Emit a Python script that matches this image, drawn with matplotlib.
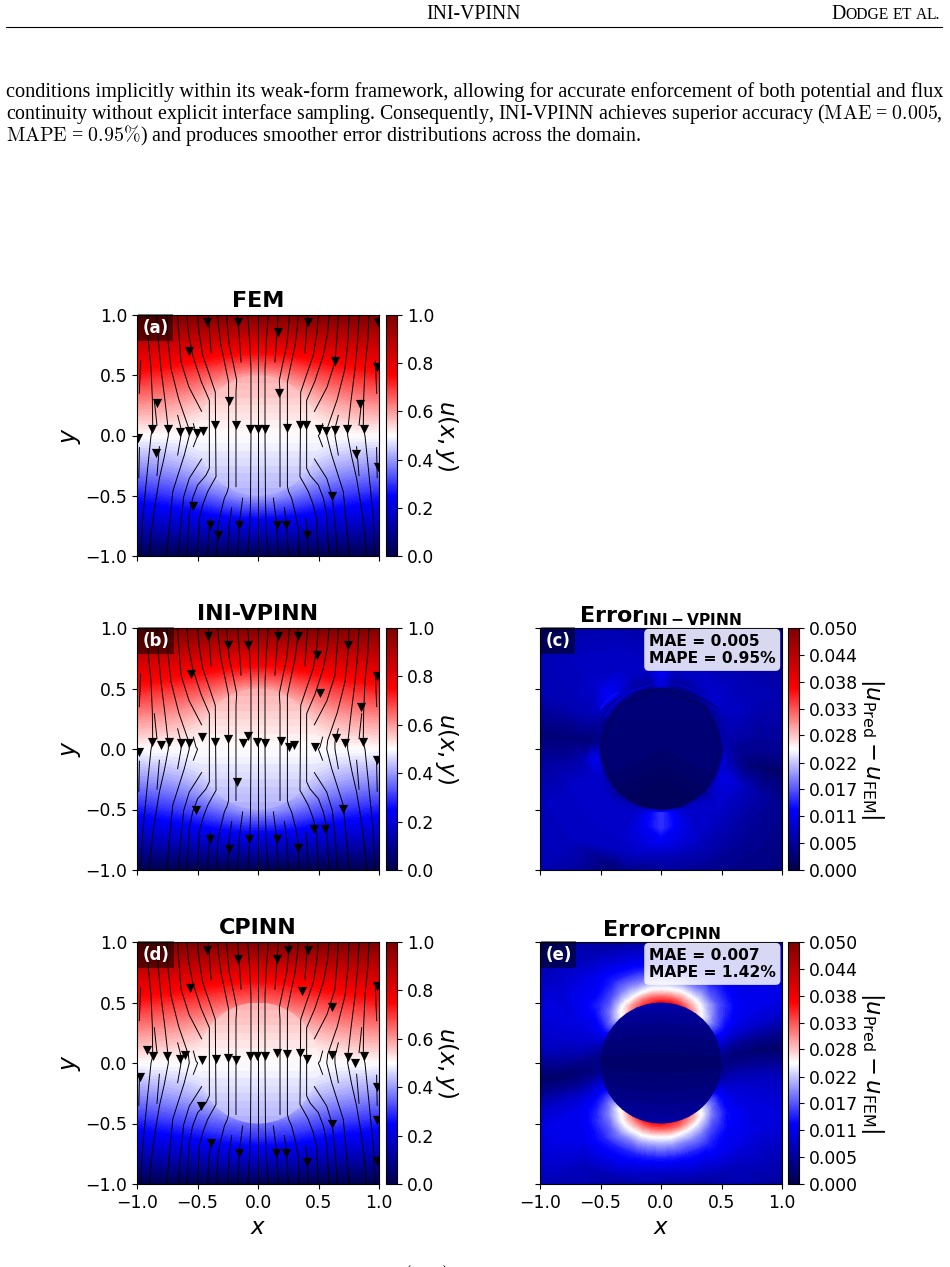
"""Potential fields and error maps for the circular inclusion test case, laid out on a journal page."""
import matplotlib

matplotlib.use("Agg")
import matplotlib.pyplot as plt
import numpy as np
from matplotlib.cm import ScalarMappable
from matplotlib.colors import Normalize
from matplotlib.patches import Circle

W, H = 950, 1267
RADIUS = 0.5

# upper right quadrant of u, rows y = 0..1, columns x = 0..1, the rest follows by symmetry
quad_nodes = [0.0, 0.125, 0.25, 0.375, 0.5, 0.625, 0.75, 0.875, 1.0]
u_quad_fem = [
    [0.500, 0.500, 0.500, 0.500, 0.500, 0.500, 0.500, 0.500, 0.500],
    [0.520, 0.520, 0.520, 0.520, 0.522, 0.536, 0.544, 0.549, 0.552],
    [0.540, 0.540, 0.540, 0.540, 0.557, 0.578, 0.591, 0.599, 0.605],
    [0.560, 0.562, 0.564, 0.577, 0.610, 0.631, 0.645, 0.655, 0.662],
    [0.590, 0.600, 0.624, 0.650, 0.673, 0.691, 0.705, 0.716, 0.728],
    [0.698, 0.702, 0.714, 0.730, 0.746, 0.759, 0.770, 0.778, 0.785],
    [0.798, 0.800, 0.807, 0.815, 0.826, 0.834, 0.841, 0.847, 0.852],
    [0.897, 0.898, 0.901, 0.905, 0.910, 0.914, 0.918, 0.921, 0.924],
    [1.000, 1.000, 1.000, 1.000, 1.000, 1.000, 1.000, 1.000, 1.000],
]
u_quad_cpinn = [
    [0.500, 0.500, 0.500, 0.500, 0.500, 0.500, 0.500, 0.500, 0.500],
    [0.520, 0.520, 0.520, 0.520, 0.525, 0.536, 0.544, 0.549, 0.552],
    [0.540, 0.540, 0.540, 0.540, 0.565, 0.580, 0.591, 0.599, 0.605],
    [0.560, 0.562, 0.564, 0.600, 0.620, 0.635, 0.645, 0.655, 0.662],
    [0.640, 0.645, 0.655, 0.665, 0.682, 0.695, 0.707, 0.716, 0.728],
    [0.710, 0.715, 0.722, 0.735, 0.748, 0.760, 0.770, 0.778, 0.785],
    [0.798, 0.800, 0.807, 0.815, 0.826, 0.834, 0.841, 0.847, 0.852],
    [0.897, 0.898, 0.901, 0.905, 0.910, 0.914, 0.918, 0.921, 0.924],
    [1.000, 1.000, 1.000, 1.000, 1.000, 1.000, 1.000, 1.000, 1.000],
]

# inside the inclusion
inner_x = [-0.5, 0.0, 0.5]
inner_y = [-0.5, -0.25, 0.0, 0.25, 0.5]
u_inner = [
    [0.42, 0.42, 0.42],
    [0.46, 0.46, 0.46],
    [0.50, 0.50, 0.50],
    [0.54, 0.54, 0.54],
    [0.58, 0.58, 0.58],
]
err_inner_vpinn = [
    [0.0015, 0.0010, 0.0015],
    [0.0025, 0.0015, 0.0025],
    [0.0030, 0.0025, 0.0030],
    [0.0030, 0.0030, 0.0030],
    [0.0035, 0.0035, 0.0035],
]
err_inner_cpinn = [
    [0.0060, 0.0060, 0.0060],
    [0.0040, 0.0035, 0.0040],
    [0.0020, 0.0020, 0.0020],
    [0.0040, 0.0035, 0.0040],
    [0.0065, 0.0065, 0.0065],
]

# absolute error outside the inclusion: rows by radius, columns by angle in degrees
err_radii_vpinn = [0.5, 0.53, 0.58, 0.65, 0.75, 0.9, 1.05, 1.45]
err_angles_vpinn = [0, 25, 45, 67.5, 80, 90, 100, 112.5, 135, 155, 173, 188, 205, 225, 247.5, 255, 270, 285, 292.5,
                    315, 335, 349]
err_outer_vpinn = [
    [.005, .004, .003, .003, .003, .003, .003, .003, .003, .003, .003, .003, .004, .004, .003, .003, .003, .003, .003, .003, .004, .004],
    [.007, .006, .005, .005, .005, .011, .005, .006, .006, .005, .004, .011, .008, .006, .008, .010, .015, .010, .008, .006, .010, .010],
    [.006, .007, .009, .006, .006, .011, .006, .006, .011, .006, .003, .011, .009, .008, .009, .011, .015, .011, .009, .008, .011, .007],
    [.005, .008, .009, .008, .008, .012, .008, .008, .012, .007, .003, .007, .009, .009, .009, .011, .015, .011, .009, .009, .010, .005],
    [.005, .008, .008, .008, .008, .009, .008, .008, .009, .007, .003, .006, .009, .009, .009, .010, .012, .010, .009, .008, .008, .003],
    [.005, .007, .007, .007, .007, .007, .007, .008, .008, .007, .003, .006, .008, .008, .008, .008, .007, .007, .007, .006, .006, .002],
    [.005, .007, .006, .006, .006, .006, .006, .007, .008, .007, .003, .006, .008, .008, .003, .004, .005, .005, .005, .005, .005, .002],
    [.004, .005, .005, .006, .006, .006, .006, .006, .006, .006, .003, .006, .007, .007, .002, .003, .004, .004, .004, .003, .004, .002],
]
# thin arcs hugging the inclusion in the INI-VPINN error
arc_angles = [
    [0, 45, 90, 135, 180, 225, 270, 315, 360],
    [35, 50, 70, 90, 110, 130, 145],
    [100, 115, 130, 150],
    [128, 134, 140, 146],
    [60, 75, 88],
]
arc_radii = [
    [0.5, 0.5, 0.5, 0.5, 0.5, 0.5, 0.5, 0.5, 0.5],
    [0.58, 0.54, 0.51, 0.5, 0.51, 0.55, 0.58],
    [0.535, 0.535, 0.54, 0.535],
    [0.59, 0.595, 0.6, 0.6],
    [0.56, 0.55, 0.545],
]
arc_values = [0.0008, 0.0012, 0.011, 0.013, 0.009]
arc_widths = [1.0, 0.8, 1.0, 1.8, 1.2]

# half turn of the CPINN error, the opposite half repeats it point for point
err_radii_cpinn = [0.5, 0.54, 0.6, 0.68, 0.78, 0.9, 1.05, 1.45]
err_angles_cpinn = [-90, -82.5, -75, -67.5, -60, -52.5, -45, -37.5, -30, -22.5, -15, -7.5,
                    0, 7.5, 15, 22.5, 30, 37.5, 45, 52.5, 60, 67.5, 75, 82.5]
err_half_cpinn = [
    [.037, .036, .035, .033, .030, .026, .022, .017, .013, .009, .006, .004, .004, .005, .008, .011, .014, .018, .023, .027, .031, .034, .036, .037],
    [.033, .033, .032, .030, .028, .025, .021, .017, .013, .010, .007, .005, .004, .004, .007, .011, .014, .018, .022, .025, .028, .030, .032, .033],
    [.026, .026, .025, .024, .023, .021, .018, .015, .012, .010, .008, .006, .004, .003, .006, .010, .013, .016, .019, .022, .024, .025, .026, .026],
    [.020, .020, .019, .019, .018, .016, .015, .013, .011, .010, .009, .007, .004, .003, .005, .009, .012, .014, .016, .017, .019, .019, .020, .020],
    [.014, .014, .014, .014, .014, .013, .012, .012, .011, .010, .009, .007, .005, .002, .005, .009, .011, .012, .013, .014, .014, .014, .014, .014],
    [.009, .009, .010, .010, .011, .011, .011, .011, .010, .010, .009, .008, .005, .002, .005, .009, .011, .011, .011, .011, .011, .011, .010, .009],
    [.004, .004, .005, .006, .007, .008, .009, .009, .010, .010, .009, .008, .005, .002, .005, .009, .011, .011, .010, .008, .007, .006, .005, .005],
    [.003, .003, .003, .004, .005, .005, .005, .006, .007, .008, .009, .008, .005, .003, .005, .008, .009, .008, .007, .006, .006, .006, .005, .005],
]

# streamline pieces on the right half, drawn mirrored on the left as well
stream_x = [
    [0.0, 0.0],
    [.085, .07, .058, .058, .062, .07, .085],
    [.168, .14],
    [.26, .252, .237, .205, .176, .182, .182],
    [.333, .325, .306, .275, .243, .243, .255, .278, .31, .333, .339],
    [.41, .388],
    [.499, .487, .457, .4, .353, .347, .38, .416, .455, .485, .499],
    [.587, .575, .54, .47, .402, .402, .402, .43, .499, .54, .568, .587],
    [.664, .655, .636, .57, .466],
    [.466, .568, .614, .636, .658],
    [.752, .745, .719, .655, .576, .568, .609, .705, .755],
    [.534, .512, .499, .534],
    [.664, .636, .636, .664],
    [.835, .825, .802, .77, .741, .741, .775, .815, .855, .884, .898],
    [.917, .908, .884, .873, .87, .884, .912, .953, .967],
    [.857, .835],
    [.815, .835],
    [.127, .154, .168],
    [.218, .237, .251],
    [.394, .408, .416],
    [.97, .981],
    [.98, .985],
]
stream_y = [
    [1.0, -1.0],
    [1.0, .8, .555, 0.0, -.55, -.8, -1.0],
    [1.0, .61],
    [1.0, .9, .748, .6, .458, .36, -.425],
    [1.0, .9, .748, .6, .444, -.425, -.47, -.52, -.65, -.77, -1.0],
    [1.0, .687],
    [1.0, .85, .666, .5, .36, -.342, -.4, -.466, -.57, -.687, -1.0],
    [1.0, .85, .666, .45, .292, 0.0, -.272, -.33, -.411, -.52, -.66, -1.0],
    [1.0, .85, .61, .4, .2],
    [-.195, -.356, -.508, -.715, -1.0],
    [1.0, .8, .555, .3, .071, 0.0, -.162, -.466, -1.0],
    [.098, .015, 0.0, -.093],
    [.167, .057, 0.0, -.162],
    [1.0, .8, .555, .3, .043, 0.0, -.18, -.356, -.6, -.826, -1.0],
    [1.0, .8, .555, .3, .057, 0.0, -.272, -.687, -1.0],
    [.292, .085],
    [-.093, -.333],
    [-.52, -.73, -1.0],
    [-.6, -.74, -1.0],
    [-.687, -.81, -1.0],
    [.62, .35],
    [-.1, -.35],
]

# arrow heads along the streamlines
arrows_fem_x = [-.419, -.166, .163, .414, .993, -.568, .637, .982, -.833, -.243, .177, .847, -.877, -.742, -.643,
                -.571, -.502, -.458, -.353, -.185, -.063, 0.0, .061, .24, .348, .4, .505, .566, .637, .739, .872,
                -.839, .808, .993, -.993, -.541, .61, -.4, -.157, .154, .234, -.328, .406]
arrows_fem_y = [.938, .938, .861, .938, .938, .698, .621, .566, .27, .29, .353, .262, .055, .05, .033,
                .041, .022, .036, .088, .083, .055, .055, .055, .066, .088, .091, .055, .041, .047, .05, .055,
                -.146, -.157, -.262, -.019, -.585, -.505, -.745, -.745, -.745, -.745, -.828, -.822]
arrows_vpinn_x = [-.416, -.245, -.08, .168, .333, .49, .747, .986, -.554, .512, .851, -.083, -.466, -.876, -.802,
                  -.736, -.639, -.567, -.353, -.248, -.127, -.008, .055, .19, .253, .295, .474, .645, .719, .871,
                  -.981, .986, -.171, -.515, .705, .466, .551, -.394, -.077, .154, -.24, .328]
arrows_vpinn_y = [.937, .86, .86, .937, .937, .777, .86, .606, .617, .466, .344, .107, .096, .055, .033,
                  .055, .05, .05, .058, .08, .05, .061, .05, .066, .017, .03, .019, .088, .052, .058,
                  -.028, -.091, -.27, -.507, -.499, -.664, -.664, -.741, -.744, -.744, -.824, -.821]
arrows_cpinn_x = [-.419, -.166, .16, .246, .414, .982, -.563, .361, .615, -.916, -.866, -.756, -.648, -.601, -.461,
                  -.35, -.246, -.185, -.069, -.006, .055, .16, .24, .348, .403, .615, .745, .8, .872, -.979, .982,
                  -.474, .982, .615, -.386, -.157, .152, .232, .403, .982]
arrows_cpinn_y = [.938, .861, .861, .938, .938, .634, .621, .599, .463, .108, .055, .055, .036, .069, .028,
                  .03, .041, .022, .058, .058, .058, .08, .072, .086, .03, .066, .052, .003, .058, -.113, -.201,
                  -.353, -.474, -.508, -.662, -.745, -.745, -.745, -.822, -.814]

ticks = [-1.0, -0.5, 0.0, 0.5, 1.0]
u_ticks = [0.0, 0.2, 0.4, 0.6, 0.8, 1.0]
err_ticks = [0.0, 0.0056, 0.0111, 0.0167, 0.0222, 0.0278, 0.0333, 0.0389, 0.0444, 0.05]
err_tick_labels = ["0.000", "0.005", "0.011", "0.017", "0.022", "0.028", "0.033", "0.038", "0.044", "0.050"]

body_lines = [
    r"conditions implicitly within its weak-form framework, allowing for accurate enforcement of both potential and flux",
    r"continuity without explicit interface sampling. Consequently, INI-VPINN achieves superior accuracy ($\mathrm{MAE}$ = $0.005$,",
    r"$\mathrm{MAPE}$ = $0.95\%$) and produces smoother error distributions across the domain.",
]
body_sizes = [14.57, 14.32, 14.42]

U_LEVELS = np.linspace(0, 1, 101)
ERR_LEVELS = np.linspace(0, 0.05, 101)
TICK_SIZE = 12.4
seismic = plt.get_cmap("seismic")


def rect(x0, y0, x1, y1):
    return [x0 / W, 1 - y1 / H, (x1 - x0) / W, (y1 - y0) / H]


def full_field(quad):
    # unfold the quadrant: mirror in x, antisymmetric about u = 0.5 in y
    top = np.array(quad)
    top = np.hstack([top[:, :0:-1], top])
    bottom = 1 - top[:0:-1, :]
    return np.vstack([bottom, top])


def style_axes(ax, left, bottom):
    ax.set_xlim(-1, 1)
    ax.set_ylim(-1, 1)
    ax.set_xticks(ticks)
    ax.set_yticks(ticks)
    if not left:
        ax.set_yticklabels([])
    else:
        ax.set_ylabel(r"$y$", fontsize=17, labelpad=2)
    if not bottom:
        ax.set_xticklabels([])
    else:
        ax.set_xlabel(r"$x$", fontsize=16.5, labelpad=3)
    ax.tick_params(labelsize=TICK_SIZE)


def panel_tag(ax, tag):
    ax.text(0.022, 0.948, tag, transform=ax.transAxes, color="white", fontsize=12, fontweight="bold", va="center",
            bbox=dict(boxstyle="square,pad=0.27", facecolor="black", alpha=0.5, edgecolor="none"), zorder=6)


def draw_streamlines(ax, ax_x, ax_y):
    for xs, ys in zip(stream_x, stream_y):
        ax.plot(xs, ys, color="black", lw=0.7, zorder=3)
        ax.plot(-np.array(xs), ys, color="black", lw=0.7, zorder=3)
    ax.scatter(ax_x, ax_y, marker="v", s=44, color="black", linewidths=0, zorder=4)


def potential_panel(box, quad, ax_x, ax_y, title, tag, bottom=False):
    ax = fig.add_axes(rect(*box))
    nodes = np.r_[-np.array(quad_nodes[:0:-1]), quad_nodes]
    ax.contourf(nodes, nodes, full_field(quad), levels=U_LEVELS, cmap="seismic", extend="both")
    inner = ax.contourf(inner_x, inner_y, u_inner, levels=U_LEVELS, cmap="seismic", extend="both", zorder=2)
    inner.set_clip_path(Circle((0, 0), RADIUS, transform=ax.transData))
    draw_streamlines(ax, ax_x, ax_y)
    style_axes(ax, True, bottom)
    ax.set_title(title, fontsize=16, fontweight="bold", pad=5.5)
    panel_tag(ax, tag)

    cax = fig.add_axes(rect(box[2] + 7, box[1], box[2] + 18, box[3]))
    cbar = fig.colorbar(ScalarMappable(Normalize(0, 1), "seismic"), cax=cax)
    cbar.set_ticks(u_ticks)
    cbar.ax.tick_params(labelsize=TICK_SIZE)
    cbar.set_label(r"$u(x,y)$", rotation=270, fontsize=16.5, labelpad=19)
    return ax


def error_panel(box, radii, angles, table, inner_table, title, tag, stats, bottom=False):
    ax = fig.add_axes(rect(*box))
    rr, aa = np.meshgrid(radii, np.radians(angles), indexing="ij")
    ax.tricontourf((rr * np.cos(aa)).ravel(), (rr * np.sin(aa)).ravel(), np.array(table).ravel(),
                   levels=ERR_LEVELS, cmap="seismic", extend="both")
    inner = ax.contourf(inner_x, inner_y, inner_table, levels=ERR_LEVELS, cmap="seismic", extend="both", zorder=2)
    inner.set_clip_path(Circle((0, 0), RADIUS, transform=ax.transData))
    style_axes(ax, False, bottom)
    ax.set_title(title, fontsize=16, fontweight="bold", pad=3.5)
    panel_tag(ax, tag)
    ax.text(0.45, 0.977, stats, transform=ax.transAxes, fontsize=11.2, fontweight="bold", va="top", linespacing=1.22,
            bbox=dict(boxstyle="round,pad=0.3", facecolor="white", alpha=0.85, edgecolor="none"), zorder=6)

    cax = fig.add_axes(rect(box[2] + 6, box[1], box[2] + 17, box[3]))
    cbar = fig.colorbar(ScalarMappable(Normalize(0, 0.05), "seismic"), cax=cax)
    cbar.set_ticks(err_ticks)
    cbar.set_ticklabels(err_tick_labels)
    cbar.ax.tick_params(labelsize=TICK_SIZE)
    cbar.set_label(r"$|u_{\mathrm{Pred}} - u_{\mathrm{FEM}}|$", rotation=270, fontsize=16.4, labelpad=20)
    return ax


def running_head(fig):
    serif = "Liberation Serif"
    fig.text(474 / W, 1 - 19 / H, "INI-VPINN", family=serif, fontsize=14.2, ha="center", va="baseline")
    fig.add_artist(plt.Line2D([6 / W, 942 / W], [1 - 27 / H, 1 - 27 / H], color="black", lw=0.8))
    renderer = fig.canvas.get_renderer()
    x = 831
    for piece, size in [("D", 14.2), ("ODGE", 11.2), ("E", 11.2), ("T", 11.2), ("A", 11.2), ("L.", 11.2)]:
        t = fig.text(x / W, 1 - 19 / H, piece, family=serif, fontsize=size, va="baseline")
        x = t.get_window_extent(renderer).x1
        if piece in ("ODGE", "T"):
            x += 4


fig = plt.figure(figsize=(W / 100, H / 100), dpi=100)
running_head(fig)
for i, line in enumerate(body_lines):
    fig.text(6 / W, 1 - (96.5 + 22.5 * i) / H, line, family="Liberation Serif", fontsize=body_sizes[i], va="baseline",
             math_fontfamily="cm")
fig.text(403 / W, 1 - 1280 / H, r"$(x, y)$", family="Liberation Serif", fontsize=14.4, va="baseline",
         math_fontfamily="cm")

potential_panel((137, 315, 379, 556), u_quad_fem, arrows_fem_x, arrows_fem_y, "FEM", "(a)")
potential_panel((137, 628, 379, 870), u_quad_fem, arrows_vpinn_x, arrows_vpinn_y, "INI-VPINN", "(b)")
potential_panel((137, 942, 379, 1184), u_quad_cpinn, arrows_cpinn_x, arrows_cpinn_y, "CPINN", "(d)", bottom=True)

ax_c = error_panel((540, 628, 782, 870), err_radii_vpinn, err_angles_vpinn, err_outer_vpinn, err_inner_vpinn,
                   r"$\mathbf{Error_{INI-VPINN}}$", "(c)", "MAE = 0.005\nMAPE = 0.95%")
for angles, radii, value, width in zip(arc_angles, arc_radii, arc_values, arc_widths):
    theta = np.radians(angles)
    ax_c.plot(np.array(radii) * np.cos(theta), np.array(radii) * np.sin(theta), color=seismic(value / 0.05),
              lw=width, alpha=0.8, zorder=3)

err_table_e = np.hstack([err_half_cpinn, err_half_cpinn])
err_angles_e = np.r_[err_angles_cpinn, np.array(err_angles_cpinn) + 180]
error_panel((540, 942, 782, 1184), err_radii_cpinn, err_angles_e, err_table_e, err_inner_cpinn,
            r"$\mathbf{Error_{CPINN}}$", "(e)", "MAE = 0.007\nMAPE = 1.42%", bottom=True)

fig.savefig("out.png", dpi=100)
plt.close(fig)
